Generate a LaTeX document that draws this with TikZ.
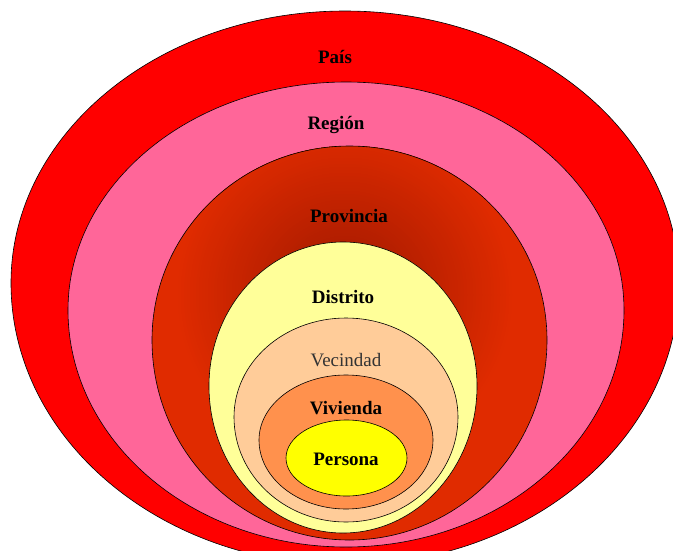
\documentclass[tikz,border=0pt]{standalone}
\usepackage{fontspec}
\setmainfont{Liberation Serif}

\definecolor{paiscol}{HTML}{FF0000}
\definecolor{regioncol}{HTML}{FF6699}
\definecolor{provlight}{HTML}{E02B00}
\definecolor{provdark}{HTML}{AC1C00}
\definecolor{distritocol}{HTML}{FFFF99}
\definecolor{vecindadcol}{HTML}{FFCC99}
\definecolor{viviendacol}{HTML}{FF914D}
\definecolor{personacol}{HTML}{FFFF00}
\definecolor{softtext}{HTML}{333333}

% egg-shaped ring: centre (cx,cy), half width rx, upper and lower half heights
\newcommand{\eggpath}[5]{%
  (#1-#3,#2) arc[start angle=180, end angle=360, x radius=#3, y radius=#4]
             arc[start angle=0, end angle=180, x radius=#3, y radius=#5] -- cycle}

\tikzset{
  ring/.style={draw=black, line width=0.6pt},
  levellabel/.style={font=\fontsize{19}{22}\selectfont\bfseries, text=black, inner sep=0pt, anchor=base},
  softlabel/.style={font=\fontsize{19}{22}\selectfont, text=softtext, inner sep=0pt, anchor=base}
}

\begin{document}
\begin{tikzpicture}[x=1pt, y=-1pt]
  \useasboundingbox (0,0) rectangle (673,550);
  \clip (0,0) rectangle (673,550);

  % nested levels, outermost first
  \path[ring, fill=paiscol] \eggpath{345}{283}{334}{272}{282};
  \path[ring, fill=regioncol] \eggpath{346}{310}{278}{228}{237};

  % Provincia: base colour with a darker glow behind the district
  \begin{scope}
    \clip \eggpath{349.5}{340}{197.5}{194}{200};
    \fill[provlight] \eggpath{349.5}{340}{197.5}{194}{200};
    \foreach \r in {170,167,...,38} {
      \pgfmathsetmacro\mixpct{min(100,max(0,(170-\r)/1.3))}
      \fill[provdark!\mixpct!provlight] (345,295) circle[radius=\r];
    }
  \end{scope}
  \path[ring] \eggpath{349.5}{340}{197.5}{194}{200};

  \path[ring, fill=distritocol] \eggpath{343}{386}{134}{144}{147};
  \path[ring, fill=vecindadcol] \eggpath{346}{417}{112}{99}{105};
  \path[ring, fill=viviendacol] \eggpath{346}{440}{87}{65}{69};
  \path[ring, fill=personacol] \eggpath{346.5}{458}{60.5}{38}{38};

  % level names, placed on their baselines
  \node[levellabel] (pais) at (335,63) {País};
  \node[levellabel] (region) at (336,129) {Región};
  \node[levellabel] (provincia) at (349,222) {Provincia};
  \node[levellabel] (distrito) at (343,303) {Distrito};
  \node[softlabel] (vecindad) at (346,366) {Vecindad};
  \node[levellabel] (vivienda) at (346,414) {Vivienda};
  \node[levellabel] (persona) at (346,465) {Persona};
\end{tikzpicture}
\end{document}
